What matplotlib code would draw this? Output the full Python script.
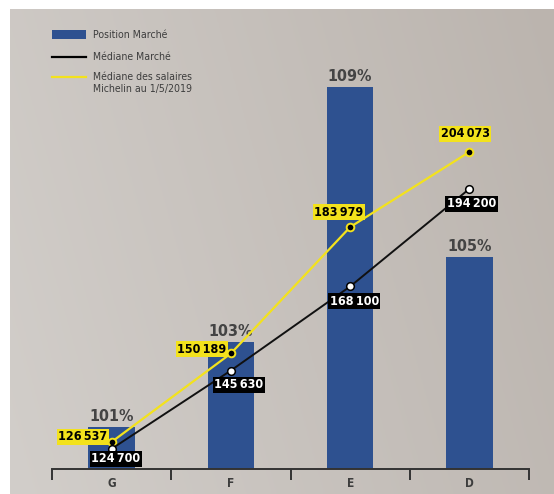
import numpy as np
import matplotlib
matplotlib.use("Agg")
import matplotlib.pyplot as plt
from matplotlib.lines import Line2D
from matplotlib.patches import Rectangle

# ---- data ----
categories = ["G", "F", "E", "D"]
position_pct = [101, 103, 109, 105]
mediane_marche = [124700, 145630, 168100, 194200]
mediane_michelin = [126537, 150189, 183979, 204073]
legend_labels = ["Position Marché", "Médiane Marché", "Médiane des salaires\nMichelin au 1/5/2019"]

def fmt(v):
    return f"{v:,}".replace(",", "\u2009")

plt.rcParams["font.family"] = ["DejaVu Sans"]
plt.rcParams["font.stretch"] = "condensed"

BLUE = "#2e5190"
YELLOW = "#f3e21c"
DARK = "#3d3d3d"
W, H = 554, 494

fig = plt.figure(figsize=(5.54, 4.94), dpi=100)
fig.patch.set_facecolor("white")

# background gradient panel
bg = fig.add_axes([10 / W, 0, 544 / W, 485 / H])
gx = np.linspace(0, 1, 200)
gy = np.linspace(0, 1, 200)
GX, GY = np.meshgrid(gx, gy)
t = 0.8 * GX + 0.2 * (1 - GY)
c0 = np.array([0xd2, 0xce, 0xca]) / 255
c1 = np.array([0xbb, 0xb4, 0xae]) / 255
img = c0[None, None, :] * (1 - t[..., None]) + c1[None, None, :] * t[..., None]
bg.imshow(img, aspect="auto", extent=[0, 1, 0, 1], origin="upper")
bg.set_axis_off()

ax = fig.add_axes([52 / W, 25 / H, 477 / W, 429 / H])
ax.patch.set_alpha(0)
x = np.arange(len(categories))
heights = [p - 100 for p in position_pct]
ax.bar(x, heights, bottom=100, width=0.39, color=BLUE, zorder=2)
ax.set_xlim(-0.5, 3.5)
ax.set_ylim(100, 110.12)
for xi, p in zip(x, position_pct):
    ax.annotate(f"{p}%", (xi, p), xytext=(0, 3), textcoords="offset pixels",
                ha="center", va="bottom", fontsize=11.5, fontweight="bold", color="#444444")

for s in ["top", "left", "right"]:
    ax.spines[s].set_visible(False)
ax.spines["bottom"].set_color("#333333")
ax.spines["bottom"].set_linewidth(1.4)
ax.set_yticks([])
ax.set_xticks(x)
ax.set_xticklabels(categories, fontsize=8.5, fontweight="bold", color=DARK)
ax.tick_params(axis="x", which="major", length=0, pad=6)
ax.set_xticks(np.arange(-0.5, 4, 1), minor=True)
ax.tick_params(axis="x", which="minor", length=8, width=1.4, color="#333333")

ax2 = ax.twinx()
ax2.set_ylim(119300, 234000)
ax2.set_yticks([])
for s in ax2.spines.values():
    s.set_visible(False)
ax2.plot(x, mediane_michelin, color=YELLOW, lw=1.6, marker="o", ms=5.5,
         mfc="black", mec=YELLOW, mew=1.4, zorder=3)
ax2.plot(x, mediane_marche, color="#111111", lw=1.4, marker="o", ms=5.5,
         mfc="white", mec="black", mew=1.1, zorder=3)

y_off = [(-29, 5), (-29, 4), (-11, 15), (-4, 18)]
b_off = [(4, -10), (8, -14), (4, -15), (2, -15)]
for xi, v, o in zip(x, mediane_michelin, y_off):
    ax2.annotate(fmt(v), (xi, v), xytext=o, textcoords="offset pixels",
                 ha="center", va="center", fontsize=9, fontweight="bold", color="black",
                 bbox=dict(boxstyle="square,pad=0.12", fc=YELLOW, ec="none"), zorder=5)
for xi, v, o in zip(x, mediane_marche, b_off):
    ax2.annotate(fmt(v), (xi, v), xytext=o, textcoords="offset pixels",
                 ha="center", va="center", fontsize=9, fontweight="bold", color="white",
                 bbox=dict(boxstyle="square,pad=0.12", fc="black", ec="none"), zorder=5)

# manual legend (figure pixel coordinates)
def fy(py):
    return 1 - py / H

fig.add_artist(Rectangle((52 / W, fy(39)), 34 / W, 9 / H, transform=fig.transFigure,
                         facecolor=BLUE, edgecolor="none"))
fig.add_artist(Line2D([52 / W, 86 / W], [fy(57), fy(57)], transform=fig.transFigure,
                      color="black", lw=1.6))
fig.add_artist(Line2D([52 / W, 86 / W], [fy(77), fy(77)], transform=fig.transFigure,
                      color=YELLOW, lw=1.6))
fig.text(93 / W, fy(35), legend_labels[0], ha="left", va="center", fontsize=7.6, color=DARK)
fig.text(93 / W, fy(57), legend_labels[1], ha="left", va="center", fontsize=7.6, color=DARK)
fig.text(93 / W, fy(72.5), legend_labels[2], ha="left", va="top", fontsize=7.6, color=DARK,
         linespacing=1.2)

fig.savefig("out.png", dpi=100)
